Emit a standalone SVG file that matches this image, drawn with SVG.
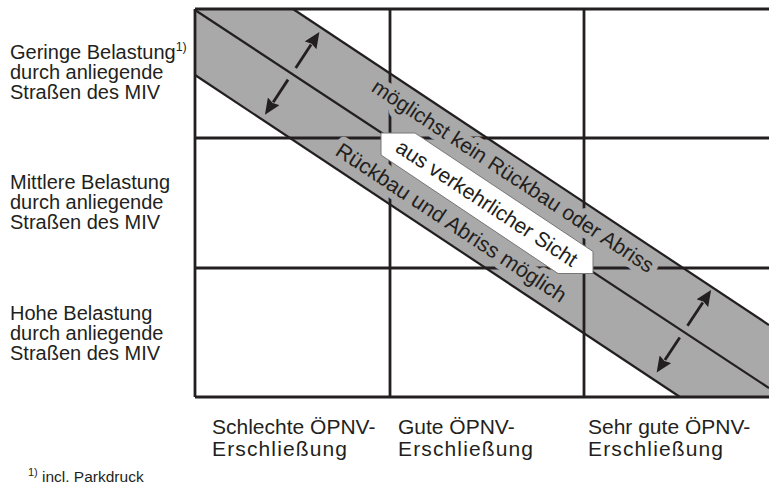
<svg xmlns="http://www.w3.org/2000/svg" width="769" height="486" viewBox="0 0 769 486">
<defs>
<style>
text{font-family:"Liberation Sans",Arial,sans-serif;fill:#231f20}
.lbl{font-size:20px}
.col{font-size:21px}
.band{font-size:21px}
.sup{font-size:12.5px}
.halo{stroke:#a9a9a9;stroke-width:12;stroke-linejoin:round;paint-order:stroke}
.grid{stroke:#231f20;stroke-width:2.8;fill:none}
.edge{stroke:#231f20;stroke-width:2.2;fill:none}
.arr{stroke:#231f20;stroke-width:2.8;fill:none;marker-end:url(#ah)}
</style>
<marker id="ah" markerUnits="userSpaceOnUse" viewBox="0 0 16 14" refX="1" refY="7" markerWidth="16" markerHeight="14" orient="auto"><path d="M0,0 L16,7 L0,14 L2,7 z" fill="#231f20"/></marker>
</defs>
<rect width="769" height="486" fill="#fff"/>
<g id="row-labels" class="lbl">
<text x="10" y="59">Geringe Belastung<tspan class="sup" dy="-8">1)</tspan></text>
<text x="10" y="79">durch anliegende</text>
<text x="10" y="99">Straßen des MIV</text>
<text x="10" y="189">Mittlere Belastung</text>
<text x="10" y="209">durch anliegende</text>
<text x="10" y="229">Straßen des MIV</text>
<text x="10" y="320">Hohe Belastung</text>
<text x="10" y="340">durch anliegende</text>
<text x="10" y="360">Straßen des MIV</text>
</g>
<g id="col-labels" class="col">
<text x="212" y="434">Schlechte ÖPNV-</text>
<text x="212" y="456" textLength="135" lengthAdjust="spacing">Erschließung</text>
<text x="398" y="434">Gute ÖPNV-</text>
<text x="398" y="456" textLength="135" lengthAdjust="spacing">Erschließung</text>
<text x="588" y="434">Sehr gute ÖPNV-</text>
<text x="588" y="456" textLength="135" lengthAdjust="spacing">Erschließung</text>
</g>
<g id="footnote">
<text x="28" y="476" style="font-size:11px">1)</text>
<text x="42" y="482" style="font-size:15.5px">incl. Parkdruck</text>
</g>
<g id="band">
<polygon points="195,9 293,9 769,325 769,397 680,397 195,75" fill="#a9a9a9"/>
</g>
<g id="grid">
<path class="grid" d="M195,9H769M195,138H769M195,268H769M195,397H769M195,9V397M390,9V397M584,9V397"/>
</g>
<g id="band-lines">
<line class="edge" x1="293" y1="9" x2="769" y2="325"/>
<line class="edge" x1="195" y1="75" x2="680" y2="397"/>
<line class="edge" x1="195" y1="10" x2="769" y2="388"/>
</g>
<g id="band-texts" transform="translate(195,10) rotate(33.36)">
<text class="band halo" x="357" y="-29" text-anchor="middle">möglichst kein Rückbau oder Abriss</text>
<text class="band halo" x="331" y="44" text-anchor="middle" style="font-size:21.5px">Rückbau und Abriss möglich</text>
</g>
<g id="center-label">
<polygon points="381,133 415,133 593,251.5 593,273.5 558,273.5 381,155" fill="#fff" stroke="#777" stroke-width="1"/>
<text class="band" transform="translate(195,10) rotate(33.36)" x="350" y="8" text-anchor="middle">aus verkehrlicher Sicht</text>
</g>
<g id="connectors" transform="translate(195,10) rotate(33.36)">
<path class="arr" d="M116,-7V-35"/>
<path class="arr" d="M116,7V34"/>
<path class="arr" d="M585,-7V-35"/>
<path class="arr" d="M585,7V34"/>
</g>
</svg>
